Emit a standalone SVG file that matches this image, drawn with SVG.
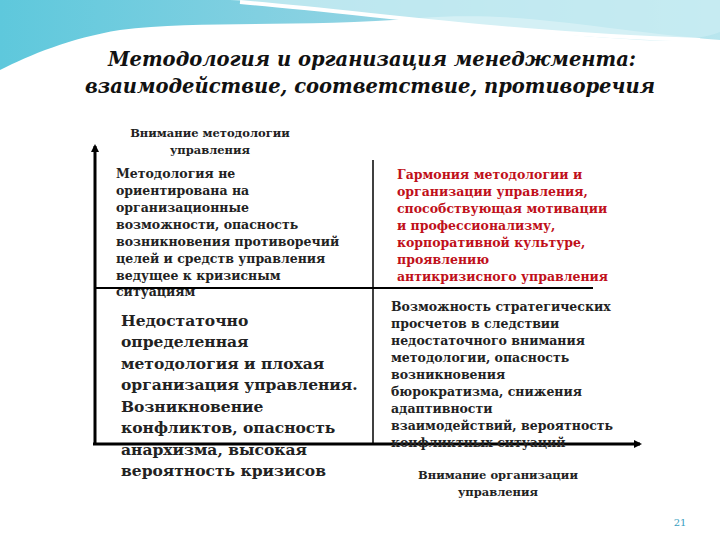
<svg xmlns="http://www.w3.org/2000/svg" width="720" height="540" viewBox="0 0 720 540">
<defs>
<linearGradient id="g1" x1="0" y1="0" x2="1" y2="0"><stop offset="0" stop-color="#5ec8dc"/><stop offset="0.5" stop-color="#8fd3e3"/><stop offset="1" stop-color="#b9e6ee"/></linearGradient>
<marker id="ar" markerWidth="8" markerHeight="8" refX="6" refY="4" orient="auto" markerUnits="userSpaceOnUse"><path d="M0,0 L8,4 L0,8 z" fill="#000"/></marker>
<style>
.t{font-family:"DejaVu Serif","Liberation Serif",serif;font-weight:bold;fill:#222}
.s{font-size:12.5px}
.a{font-size:11.5px}
.b{font-size:15.5px}
.r{fill:#c0101a}
.h{font-family:"DejaVu Serif","Liberation Serif",serif;font-style:italic;font-weight:bold;font-size:19.5px;fill:#111}
</style>
</defs>
<rect width="720" height="540" fill="#fff"/>
<path d="M0,0 H720 V40 C600,30 520,10 420,18 C300,28 200,20 120,30 C70,38 30,55 0,70 Z" fill="url(#g1)"/>
<path d="M230,0 C350,10 480,30 640,40 C680,42 705,38 720,32 V0 Z" fill="#c9ecf2" opacity="0.8"/>
<path d="M240,2 C380,14 520,35 700,40" stroke="#fff" stroke-width="4" fill="none"/>
<text class="h" x="372" y="66" text-anchor="middle">Методология и организация менеджмента:</text>
<text class="h" x="370" y="93" text-anchor="middle">взаимодействие, соответствие, противоречия</text>
<g id="connectors" stroke="#000" fill="none">
<line x1="95" y1="444" x2="95" y2="146" stroke-width="3" marker-end="url(#ar)"/>
<line x1="93" y1="444" x2="640" y2="444" stroke-width="3" marker-end="url(#ar)"/>
<line x1="95" y1="288" x2="593" y2="288" stroke-width="2"/>
<line x1="373" y1="160" x2="373" y2="444" stroke-width="1.5"/>
</g>
<g id="axis-y"><text class="t a" x="210" y="137" text-anchor="middle">Внимание методологии</text><text class="t a" x="210" y="154" text-anchor="middle">управления</text></g>
<g id="axis-x"><text class="t a" x="498" y="479" text-anchor="middle">Внимание организации</text><text class="t a" x="498" y="496" text-anchor="middle">управления</text></g>
<g id="q-top-left"><text class="t s" x="116">
<tspan x="116" y="178">Методология не</tspan><tspan x="116" y="195">ориентирована на</tspan><tspan x="116" y="212">организационные</tspan><tspan x="116" y="229">возможности, опасность</tspan><tspan x="116" y="246">возникновения противоречий</tspan><tspan x="116" y="263">целей и средств управления</tspan><tspan x="116" y="280">ведущее к кризисным</tspan><tspan x="116" y="296">ситуациям</tspan></text></g>
<g id="q-top-right"><text class="t s r" x="397">
<tspan x="397" y="179">Гармония методологии и</tspan><tspan x="397" y="196">организации управления,</tspan><tspan x="397" y="213">способствующая мотивации</tspan><tspan x="397" y="230">и профессионализму,</tspan><tspan x="397" y="247">корпоративной культуре,</tspan><tspan x="397" y="264">проявлению</tspan><tspan x="397" y="281">антикризисного управления</tspan></text></g>
<g id="q-bottom-left"><text class="t b" x="121">
<tspan x="121" y="326">Недостаточно</tspan><tspan x="121" y="347">определенная</tspan><tspan x="121" y="369">методология и плохая</tspan><tspan x="121" y="390">организация управления.</tspan><tspan x="121" y="412">Возникновение</tspan><tspan x="121" y="433">конфликтов, опасность</tspan><tspan x="121" y="455">анархизма, высокая</tspan><tspan x="121" y="476">вероятность кризисов</tspan></text></g>
<g id="q-bottom-right"><text class="t s" x="391">
<tspan x="391" y="311">Возможность стратегических</tspan><tspan x="391" y="328">просчетов в следствии</tspan><tspan x="391" y="345">недостаточного внимания</tspan><tspan x="391" y="362">методологии, опасность</tspan><tspan x="391" y="379">возникновения</tspan><tspan x="391" y="396">бюрократизма, снижения</tspan><tspan x="391" y="413">адаптивности</tspan><tspan x="391" y="430">взаимодействий, вероятность</tspan><tspan x="391" y="447">конфликтных ситуаций</tspan></text></g>
<text x="680" y="526" text-anchor="middle" font-family="DejaVu Serif,serif" font-size="10" fill="#3aa0c0">21</text>
</svg>
